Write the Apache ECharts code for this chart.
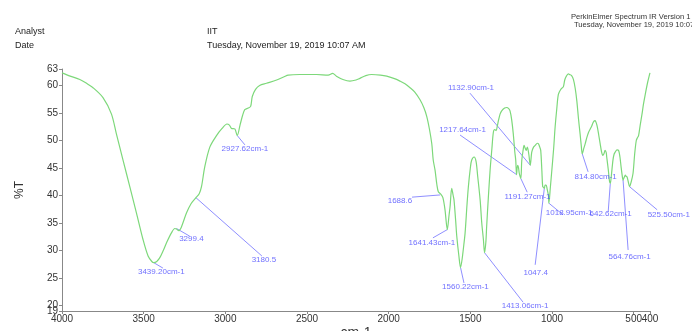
<!DOCTYPE html>
<html>
<head>
<meta charset="utf-8">
<script src="https://cdn.jsdelivr.net/npm/echarts@6/dist/echarts.min.js"></script>
<style>
html,body{margin:0;padding:0;background:#fff;}
#chart{width:692px;height:331px;}
</style>
</head>
<body>
<div id="chart"></div>
<script>
// Spectrum trace (wavenumber cm-1, %T)
const wavenumbers = [4000,3950,3891,3850,3810,3749,3697,3667,3626,3585,3544,3504,3473,3450,3439,3420,3401,3380,3360,3330,3309,3299,3285,3270,3238,3210,3180,3160,3146,3126,3095,3054,3020,2990,2975,2962,2942,2927,2910,2895,2881,2860,2845,2835,2815,2790,2748,2686,2640,2615,2544,2441,2370,2343,2320,2280,2237,2200,2176,2140,2104,2050,2012,1960,1931,1900,1869,1840,1808,1785,1767,1750,1736,1727,1716,1705,1696,1680,1668,1655,1641,1630,1624,1614,1605,1600,1590,1583,1570,1560,1550,1540,1532,1520,1512,1500,1492,1477,1465,1455,1440,1430,1420,1413,1405,1400,1390,1379,1368,1359,1350,1342,1335,1328,1318,1308,1290,1277,1265,1257,1247,1237,1228,1222,1217,1211,1206,1200,1191,1185,1178,1171,1164,1158,1151,1142,1133,1124,1113,1103,1090,1083,1075,1069,1062,1057,1052,1047,1042,1036,1030,1022,1019,1010,1001,990,981,970,961,946,936,930,922,914,900,893,880,869,858,848,838,828,820,815,805,797,786,776,766,756,746,736,729,722,714,705,697,689,682,675,668,665,655,648,643,637,627,620,613,602,592,584,577,571,565,558,551,546,541,533,525,515,504,494,484,477,470,460,449,440,429,415,403,400];
const transmittance = [62.3,61.7,61.1,60.4,59.6,57.8,54.8,51.2,46.4,41.6,36.8,32.0,29.0,28.0,27.8,28.0,28.7,30.0,31.4,33.2,34.0,33.9,33.6,34.2,36.8,38.5,39.6,40.3,41.6,45.2,48.8,50.9,52.2,53.0,52.8,52.2,52.1,50.9,52.8,54.5,55.6,55.9,56.2,58.0,59.3,60.0,60.4,61.0,61.6,61.9,62.0,62.0,61.9,62.2,61.7,61.1,60.8,61.0,61.3,61.8,62.0,61.9,61.7,61.2,60.8,60.3,59.6,58.8,57.4,56.0,54.4,52.0,49.4,46.4,44.6,42.0,40.7,40.2,39.6,37.4,33.8,36.5,38.0,41.3,40.0,39.2,35.5,32.6,29.0,26.9,28.5,31.0,33.2,38.5,41.6,45.0,46.4,47.0,46.2,43.5,39.2,35.0,32.0,29.6,31.5,34.4,39.5,44.6,48.5,51.5,52.0,51.8,52.6,53.6,54.8,55.4,55.9,56.0,55.8,55.4,53.8,51.2,48.0,46.4,43.8,45.5,45.2,44.0,43.1,46.4,48.0,49.1,48.6,48.2,48.8,47.5,45.5,47.9,48.8,49.1,49.5,49.4,48.8,48.2,44.5,41.6,41.5,41.3,41.9,41.9,41.2,40.0,38.6,41.5,44.6,48.5,52.4,56.0,58.4,59.3,59.6,59.8,61.0,61.6,62.1,62.0,61.8,61.1,59.5,57.2,54.0,51.2,48.8,47.6,48.6,49.4,50.6,51.5,52.1,52.7,53.4,53.6,53.2,52.4,51.0,49.4,48.0,47.3,47.6,48.2,47.8,47.0,44.6,42.6,42.2,43.5,46.4,47.5,47.9,48.3,48.2,47.0,45.2,43.8,42.8,43.3,43.7,43.5,43.4,42.5,41.6,42.5,44.0,47.5,50.0,50.5,50.9,52.8,54.8,56.6,58.4,60.5,62.0,62.3];

// Axis ticks (the crowded end ticks are drawn on a companion axis so both labels stay visible)
const xTicks = [4000,3500,3000,2500,2000,1500,1000,500,400];
const xTicksMain = [4000,3500,3000,2500,2000,1500,1000,500];
const xTicksEnd = [400];
const yTicks = [19,20,25,30,35,40,45,50,55,60,63];
const yTicksMain = [20,25,30,35,40,45,50,55,60,63];
const yTicksEnd = [19];

// Peak annotations: label, peak point, leader line end, text centre (data units)
const peakLabels = ['3439.20cm-1','3299.4','3180.5','2927.62cm-1','1132.90cm-1','1217.64cm-1','1191.27cm-1','1047.4','1018.95cm-1','1688.6','1641.43cm-1','1560.22cm-1','1413.06cm-1','814.80cm-1','642.62cm-1','564.76cm-1','525.50cm-1'];
const peakX = [3439,3299,3180,2927,1133,1217,1191,1047,1019,1685,1641,1560,1413,815,643,565,525];
const peakY = [27.8,34.0,39.6,50.9,45.5,43.8,43.1,41.3,38.6,40.1,33.8,26.9,29.6,47.6,42.2,42.8,41.6];
const lineEndX = [3382,3218,2776,2880,1502,1563,1152,1103,933,1857,1729,1539,1177,779,656,534,356];
const lineEndY = [26.8,32.6,29.0,49.2,58.6,51.0,40.6,27.4,36.5,39.7,32.3,24.1,20.6,44.3,37.0,30.1,37.4];
const textX = [3392,3208,2764,2880,1496,1548,1150,1100,895,1931,1735,1530,1165,733,641,525,285];
const textY = [26.1,32.1,28.3,48.5,59.6,51.9,39.8,25.9,36.9,39.0,31.4,23.4,20.0,43.4,36.6,28.9,36.5];

const chart = echarts.init(document.getElementById('chart'), null, {renderer:'canvas'});
const font = '"Liberation Sans", Arial, sans-serif';

const spectrum = wavenumbers.map((w,i)=>[w, transmittance[i]]);
const leaders = peakLabels.map((l,i)=>({coords:[[peakX[i],peakY[i]],[lineEndX[i],lineEndY[i]]]}));
const texts = peakLabels.map((l,i)=>({name:l, value:[textX[i], textY[i]]}));

const labelBase = {fontSize:10, color:'#333', fontFamily:font, hideOverlap:false,
  showMinLabel:true, showMaxLabel:true, formatter:v=>String(v)};

chart.setOption({
  animation:false,
  backgroundColor:'#ffffff',
  textStyle:{fontFamily:font},
  grid:{left:62, right:42, top:69, bottom:20, containLabel:false, outerBoundsMode:'none'},
  graphic:[
    {type:'text', left:15, top:27, style:{text:'Analyst', font:'9px '+font, fill:'#222'}},
    {type:'text', left:15, top:41, style:{text:'Date', font:'9px '+font, fill:'#222'}},
    {type:'text', left:207, top:27, style:{text:'IIT', font:'9px '+font, fill:'#222'}},
    {type:'text', left:207, top:41, style:{text:'Tuesday, November 19, 2019 10:07 AM', font:'9px '+font, fill:'#222'}},
    {type:'text', left:571, top:13, style:{text:'PerkinElmer Spectrum IR Version 1', font:'7.6px '+font, fill:'#333'}},
    {type:'text', left:574, top:21, style:{text:'Tuesday, November 19, 2019 10:07 AM', font:'7.6px '+font, fill:'#333'}}
  ],
  xAxis:[{
    type:'value', inverse:true, min:400, max:4000,
    name:'cm-1', nameLocation:'middle', nameGap:15, nameMoveOverlap:false,
    nameTextStyle:{fontSize:14, color:'#333', fontFamily:font, verticalAlign:'top'},
    splitLine:{show:false},
    axisLine:{show:true, lineStyle:{color:'#888', width:1}},
    axisTick:{show:true, length:3, customValues:xTicks, lineStyle:{color:'#888'}},
    axisLabel:Object.assign({customValues:xTicksMain, margin:3}, labelBase)
  },{
    type:'value', inverse:true, min:400, max:4000, position:'bottom',
    splitLine:{show:false}, axisLine:{show:false}, axisTick:{show:false},
    axisLabel:Object.assign({customValues:xTicksEnd, margin:3}, labelBase)
  }],
  yAxis:[{
    type:'value', min:19, max:63,
    name:'%T', nameLocation:'middle', nameGap:36,
    nameTextStyle:{fontSize:12, color:'#333', fontFamily:font},
    splitLine:{show:false},
    axisLine:{show:true, lineStyle:{color:'#888', width:1}},
    axisTick:{show:true, length:3, customValues:yTicks, lineStyle:{color:'#888'}},
    axisLabel:Object.assign({customValues:yTicksMain, margin:4}, labelBase)
  },{
    type:'value', min:19, max:63, position:'left',
    splitLine:{show:false}, axisLine:{show:false}, axisTick:{show:false},
    axisLabel:Object.assign({customValues:yTicksEnd, margin:4}, labelBase)
  }],
  series:[
    {
      type:'line', data:spectrum, showSymbol:false, symbol:'none', smooth:0.3,
      xAxisIndex:0, yAxisIndex:0,
      lineStyle:{color:'#7dd87a', width:1.2}, silent:true, z:3
    },
    {
      type:'lines', coordinateSystem:'cartesian2d', data:leaders, clip:false,
      xAxisIndex:0, yAxisIndex:0, polyline:false, silent:true,
      lineStyle:{color:'#8f8fff', width:1, opacity:1}, z:2
    },
    {
      type:'scatter', data:texts, symbolSize:0, clip:false, silent:true,
      xAxisIndex:0, yAxisIndex:0,
      label:{show:true, position:'inside', formatter:p=>p.name, color:'#4b4bff',
        fontSize:8, fontFamily:font, align:'center', verticalAlign:'middle'},
      z:4
    }
  ]
});
</script>
</body>
</html>
